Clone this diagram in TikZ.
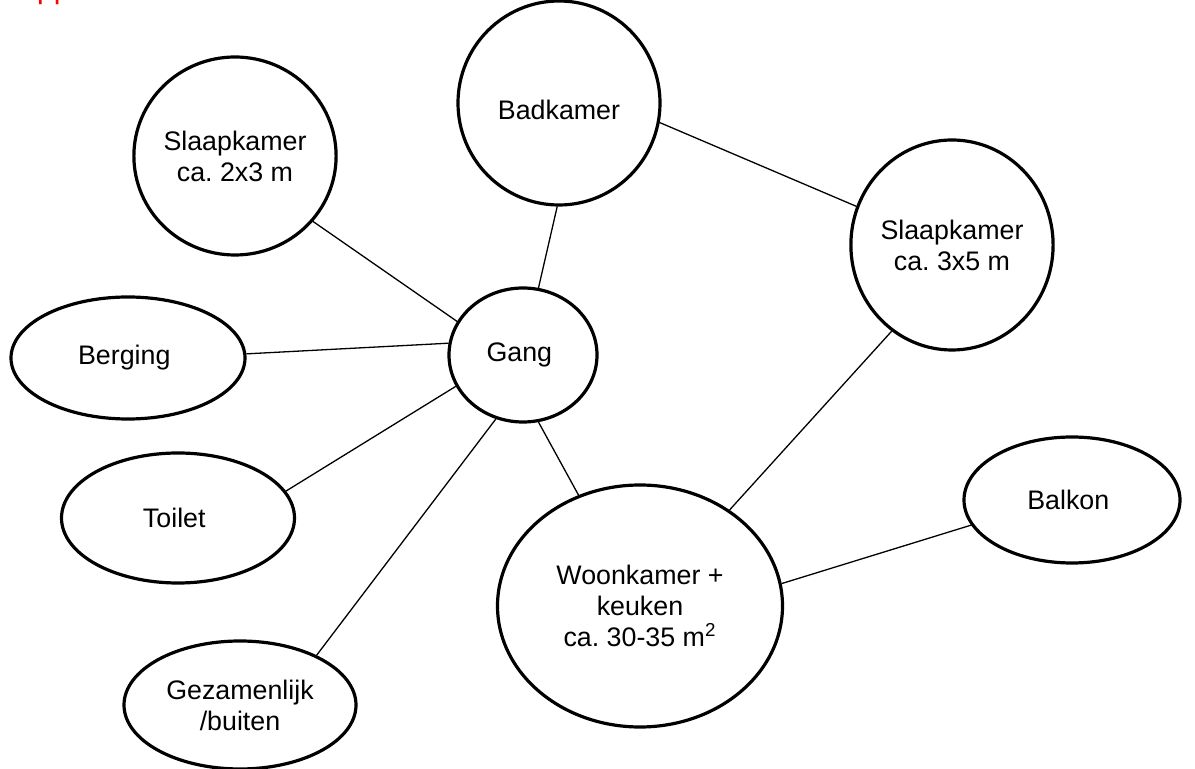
\documentclass[tikz,border=0pt]{standalone}
\usepackage{fontspec}
\setmainfont{Liberation Sans}
\usetikzlibrary{shapes.geometric}
\begin{document}
\frenchspacing
\begin{tikzpicture}[x=0.5pt, y=-0.5pt,
   roomtext/.style={align=center, font=\fontsize{13.4}{15.5}\selectfont},
   room/.style={ellipse, draw, line width=1.6pt, inner sep=0pt, roomtext},
   link/.style={line width=0.65pt}]
      \useasboundingbox (0,0) rectangle (1195,769);
      % title, cut off at the top edge
      \node (Titel) [anchor=base west, inner sep=0pt, text=red,
         font=\fontsize{15}{18}\selectfont] at (20,-1.5) {appartement};
      \node (SlaapkamerA) [room, minimum width=97.5pt, minimum height=99pt] at (235,156) {
         Slaapkamer\\ca. 2x3 m
      };
      \node (Badkamer) [room, minimum width=101pt, minimum height=102pt,
         label={[roomtext, yshift=-3.5pt]center:Badkamer}] at (559,103) {};
      \node (SlaapkamerB) [room, minimum width=100.5pt, minimum height=105pt] at (952,245) {
         Slaapkamer\\ca. 3x5 m
      };
      \node (Gang) [room, minimum width=74pt, minimum height=67pt] at (523,355) {
         Gang
      };
      \node (Berging) [room, minimum width=117pt, minimum height=61pt] at (128,358) {
         Berging
      };
      \node (Toilet) [room, minimum width=116.5pt, minimum height=65pt] at (178,518) {
         Toilet
      };
      \node (Gezamenlijk) [room, minimum width=116pt, minimum height=64pt] at (240,705) {
         Gezamenlijk\\/buiten
      };
      \node (Woonkamer) [room, minimum width=142.5pt, minimum height=121pt] at (640,606) {
         Woonkamer +\\keuken\\ca. 30-35 m\textsuperscript{2}
      };
      \node (Balkon) [room, minimum width=108pt, minimum height=63pt] at (1072,500) {
         Balkon
      };
      \draw[link] (Gang.153) to (SlaapkamerA.320);
      \draw[link] (Gang.171) to (Berging.2);
      \draw[link] (Gang.205) to (Toilet.14);
      \draw[link] (Gang.247) to (Gezamenlijk.33);
      \draw[link] (Gang.283) to (Woonkamer.119);
      \draw[link] (Gang.77) to (Badkamer.269);
      \draw[link] (Badkamer.349) to (SlaapkamerB.158);
      \draw[link] (SlaapkamerB.235) to (Woonkamer.47);
      \draw[link] (Woonkamer.9) to (Balkon.194);
      \end{tikzpicture}
\end{document}
